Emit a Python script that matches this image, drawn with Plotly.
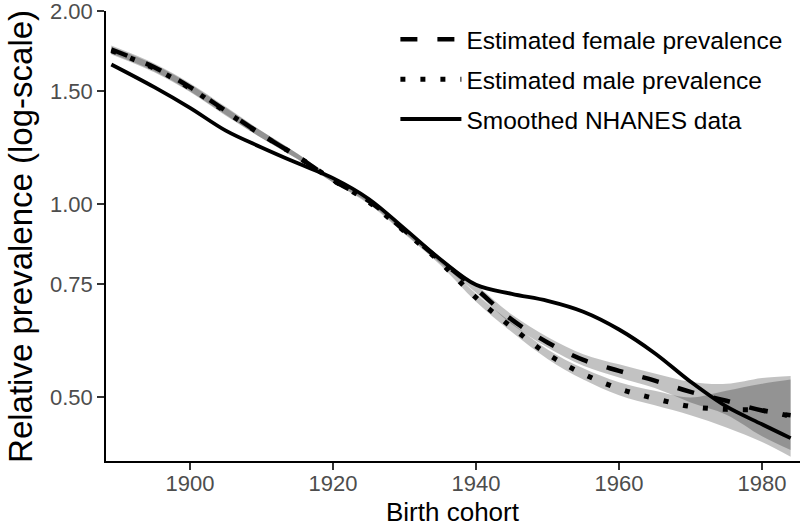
import plotly.graph_objects as go

# Birth cohort years
years = [1889, 1895, 1900, 1905, 1910, 1915, 1920, 1925, 1930, 1935,
         1940, 1945, 1950, 1955, 1960, 1965, 1970, 1975, 1980, 1984]

# Estimated female prevalence (relative) and its band
female = [1.742, 1.634, 1.522, 1.398, 1.284, 1.187, 1.090, 1.012, 0.910, 0.818,
          0.738, 0.661, 0.609, 0.572, 0.550, 0.531, 0.510, 0.494, 0.477, 0.469]
female_hi = [1.767, 1.657, 1.544, 1.418, 1.300, 1.200, 1.100, 1.019, 0.918, 0.827,
             0.749, 0.673, 0.621, 0.584, 0.563, 0.545, 0.529, 0.525, 0.536, 0.540]
female_lo = [1.717, 1.611, 1.500, 1.378, 1.268, 1.176, 1.081, 1.005, 0.902, 0.809,
             0.728, 0.650, 0.598, 0.560, 0.537, 0.517, 0.491, 0.470, 0.435, 0.414]

# Estimated male prevalence (relative) and its band
male = [1.735, 1.628, 1.516, 1.393, 1.284, 1.187, 1.090, 1.008, 0.907, 0.812,
        0.715, 0.643, 0.584, 0.544, 0.516, 0.498, 0.484, 0.479, 0.477, 0.467]
male_hi = [1.760, 1.651, 1.538, 1.413, 1.300, 1.200, 1.100, 1.016, 0.915, 0.821,
           0.725, 0.653, 0.594, 0.555, 0.528, 0.512, 0.500, 0.512, 0.525, 0.533]
male_lo = [1.711, 1.605, 1.495, 1.373, 1.268, 1.176, 1.081, 1.001, 0.899, 0.804,
           0.705, 0.632, 0.574, 0.533, 0.504, 0.486, 0.469, 0.449, 0.426, 0.404]

# Smoothed NHANES data
nhanes = [1.651, 1.522, 1.413, 1.302, 1.226, 1.159, 1.098, 1.019, 0.916, 0.821,
          0.749, 0.725, 0.707, 0.680, 0.638, 0.586, 0.529, 0.484, 0.454, 0.432]

y_ticks = [0.50, 0.75, 1.00, 1.50, 2.00]
y_ticklabels = ["0.50", "0.75", "1.00", "1.50", "2.00"]
x_ticks = [1900, 1920, 1940, 1960, 1980]
x_title = "Birth cohort"
y_title = "Relative prevalence (log-scale)"

FONT = "Liberation Sans, Arial, sans-serif"
band_fill = "rgba(0,0,0,0.24)"

fig = go.Figure()

for lo, hi in [(female_lo, female_hi), (male_lo, male_hi)]:
    fig.add_trace(go.Scatter(x=years, y=lo, mode="lines", line=dict(width=0, shape="spline"),
                             showlegend=False, hoverinfo="skip"))
    fig.add_trace(go.Scatter(x=years, y=hi, mode="lines", line=dict(width=0, shape="spline"),
                             fill="tonexty", fillcolor=band_fill, showlegend=False, hoverinfo="skip"))

fig.add_trace(go.Scatter(x=years, y=female, mode="lines", name="Estimated female prevalence",
                         legendgroup="f",
                         line=dict(color="black", width=4.5, dash="17px,20px", shape="spline")))
fig.add_trace(go.Scatter(x=years, y=male, mode="lines", name="Estimated male prevalence",
                         legendgroup="m",
                         line=dict(color="black", width=5, dash="5px,15px", shape="spline")))
fig.add_trace(go.Scatter(x=years, y=nhanes, mode="lines", name="Smoothed NHANES data",
                         legendgroup="n",
                         line=dict(color="black", width=3.8, shape="spline")))

fig.update_layout(
    width=800, height=527,
    margin=dict(l=106, r=0, t=11, b=66, autoexpand=False),
    paper_bgcolor="white", plot_bgcolor="white",
    font=dict(family=FONT, color="black"),
    legend=dict(x=0.417, y=0.987, xanchor="left", yanchor="top",
                font=dict(size=24.5, family=FONT, color="black"),
                bgcolor="rgba(0,0,0,0)", itemwidth=61, tracegroupgap=5,
                traceorder="grouped"),
    annotations=[
        dict(text=x_title, xref="paper", yref="paper", x=0.5, y=-0.114,
             xanchor="center", yanchor="middle", showarrow=False,
             font=dict(size=26, color="black", family=FONT)),
        dict(text=y_title, xref="paper", yref="paper", x=-0.124, y=0.5,
             xanchor="center", yanchor="middle", showarrow=False, textangle=-90,
             font=dict(size=33, color="black", family=FONT)),
    ],
)

fig.update_xaxes(
    range=[1888.25, 1985.31], tickvals=x_ticks, automargin=False,
    showline=True, linecolor="black", linewidth=1.6,
    ticks="outside", ticklen=7, tickwidth=1.6, tickcolor="#333333",
    tickfont=dict(size=22, color="#4d4d4d", family=FONT),
    ticklabelstandoff=-5, ticklabeloverflow="allow",
    showgrid=False, zeroline=False,
)
fig.update_yaxes(
    type="log", range=[-0.4001, 0.30103], automargin=False,
    tickvals=y_ticks, ticktext=y_ticklabels,
    showline=True, linecolor="black", linewidth=1.6,
    ticks="outside", ticklen=7, tickwidth=1.6, tickcolor="#333333",
    tickfont=dict(size=22, color="#4d4d4d", family=FONT),
    ticklabeloverflow="allow",
    showgrid=False, zeroline=False,
)

fig.write_html("out.html", config={"displayModeBar": False},
               post_script="document.body.style.margin='0';document.body.style.overflow='hidden';")
